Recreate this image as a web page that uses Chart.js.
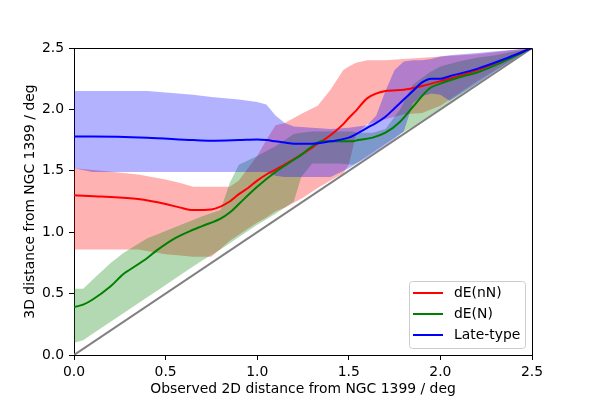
<!DOCTYPE html>
<html>
<head>
<meta charset="utf-8">
<script src="https://cdn.jsdelivr.net/npm/chart.js@4.4.1/dist/chart.umd.min.js"></script>
<style>
  html, body { margin: 0; padding: 0; background: #fff; }
</style>
</head>
<body>
<canvas id="grafico" width="591" height="399"></canvas>
<script>
const seriesNames = ['dE(nN)', 'dE(N)', 'Late-type'];
const xTickValues = [0, 0.5, 1.0, 1.5, 2.0, 2.5];
const yTickValues = [0, 0.5, 1.0, 1.5, 2.0, 2.5];

// dE(nN)
const redX    = [0, 0.15, 0.35, 0.5, 0.58, 0.65, 0.75, 0.85, 0.9, 0.95, 1.0, 1.05, 1.1, 1.15, 1.25, 1.33, 1.4, 1.47, 1.5, 1.54, 1.6, 1.7, 1.8, 1.9, 2.0, 2.2, 2.5];
const redLine = [1.30, 1.29, 1.27, 1.23, 1.20, 1.18, 1.185, 1.25, 1.31, 1.36, 1.42, 1.47, 1.51, 1.55, 1.64, 1.72, 1.79, 1.88, 1.93, 1.99, 2.09, 2.15, 2.16, 2.19, 2.23, 2.32, 2.5];
const redLow  = [0.86, 0.86, 0.86, 0.82, 0.81, 0.80, 0.80, 0.93, 0.98, 1.03, 1.08, 1.12, 1.17, 1.20, 1.28, 1.36, 1.42, 1.48, 1.55, 1.80, 1.88, 1.92, 1.96, 1.97, 2.03, 2.23, 2.5];
const redHigh = [1.52, 1.50, 1.47, 1.43, 1.40, 1.37, 1.37, 1.37, 1.42, 1.52, 1.62, 1.75, 1.87, 1.89, 1.97, 2.03, 2.16, 2.32, 2.35, 2.38, 2.40, 2.40, 2.41, 2.42, 2.43, 2.45, 2.5];

// dE(N)
const greenX    = [0, 0.05, 0.1, 0.2, 0.27, 0.3, 0.4, 0.45, 0.55, 0.65, 0.7, 0.8, 0.85, 0.9, 1.0, 1.1, 1.2, 1.24, 1.3, 1.35, 1.45, 1.52, 1.55, 1.63, 1.7, 1.78, 1.85, 1.94, 2.0, 2.1, 2.2, 2.3, 2.5];
const greenLine = [0.39, 0.41, 0.45, 0.56, 0.66, 0.69, 0.79, 0.85, 0.95, 1.02, 1.05, 1.11, 1.16, 1.23, 1.37, 1.49, 1.59, 1.63, 1.70, 1.74, 1.74, 1.74, 1.75, 1.77, 1.81, 1.90, 2.02, 2.17, 2.21, 2.26, 2.30, 2.36, 2.5];
const greenLow  = [0.10, 0.12, 0.17, 0.27, 0.34, 0.37, 0.47, 0.52, 0.62, 0.72, 0.77, 0.86, 0.91, 0.96, 1.06, 1.15, 1.25, 1.45, 1.56, 1.56, 1.56, 1.55, 1.57, 1.65, 1.72, 1.80, 1.86, 1.95, 2.01, 2.11, 2.21, 2.31, 2.5];
const greenHigh = [0.54, 0.54, 0.61, 0.75, 0.83, 0.86, 0.95, 0.98, 1.04, 1.10, 1.13, 1.18, 1.40, 1.55, 1.62, 1.70, 1.80, 1.81, 1.82, 1.82, 1.82, 1.82, 1.81, 1.81, 1.84, 2.00, 2.20, 2.30, 2.35, 2.39, 2.42, 2.44, 2.5];

// Late-type
const blueX    = [0, 0.1, 0.4, 0.65, 0.75, 0.9, 1.0, 1.05, 1.1, 1.15, 1.2, 1.3, 1.4, 1.5, 1.6, 1.65, 1.7, 1.75, 1.8, 1.85, 1.9, 1.95, 2.0, 2.05, 2.2, 2.35, 2.5];
const blueLine = [1.78, 1.78, 1.77, 1.75, 1.745, 1.75, 1.755, 1.75, 1.74, 1.73, 1.72, 1.72, 1.74, 1.77, 1.85, 1.89, 1.94, 2.01, 2.08, 2.15, 2.22, 2.25, 2.25, 2.27, 2.33, 2.41, 2.5];
const blueLow  = [1.52, 1.49, 1.49, 1.49, 1.49, 1.49, 1.49, 1.49, 1.46, 1.45, 1.45, 1.45, 1.45, 1.52, 1.61, 1.66, 1.71, 1.76, 1.82, 2.05, 2.11, 2.13, 2.12, 2.07, 2.21, 2.36, 2.5];
const blueHigh = [2.15, 2.15, 2.15, 2.12, 2.10, 2.08, 2.06, 2.04, 1.95, 1.89, 1.86, 1.85, 1.84, 1.85, 1.87, 1.95, 2.15, 2.32, 2.39, 2.40, 2.40, 2.41, 2.43, 2.44, 2.46, 2.48, 2.5];

// linea 1:1
const diagX = [0, 2.5];
const diagY = [0, 2.5];

const fuente = { family: 'DejaVu Sans', size: 13.9 };

function puntos(xs, ys) {
    return xs.map((x, i) => ({ x: x, y: ys[i] }));
}

function linea(label, xs, ys, color) {
    return {
        label: label,
        data: puntos(xs, ys),
        borderColor: color,
        borderWidth: 2,
        pointRadius: 0,
        cubicInterpolationMode: 'monotone',
        fill: false
    };
}

function borde(xs, ys, fillTarget, color) {
    return {
        data: puntos(xs, ys),
        borderWidth: 0,
        borderColor: 'rgba(0,0,0,0)',
        pointRadius: 0,
        tension: 0,
        fill: fillTarget === null ? false : { target: fillTarget },
        backgroundColor: color
    };
}

// primero en la lista = dibujado encima
const datasets = [
    linea(seriesNames[2], blueX, blueLine, '#0000ff'),
    linea(seriesNames[1], greenX, greenLine, '#008000'),
    linea(seriesNames[0], redX, redLine, '#ff0000'),
    { data: puntos(diagX, diagY), borderColor: '#808080', borderWidth: 2, pointRadius: 0, fill: false },
    borde(blueX, blueLow, null, 'rgba(0,0,0,0)'),
    borde(blueX, blueHigh, 4, 'rgba(0,0,255,0.3)'),
    borde(greenX, greenLow, null, 'rgba(0,0,0,0)'),
    borde(greenX, greenHigh, 6, 'rgba(0,128,0,0.3)'),
    borde(redX, redLow, null, 'rgba(0,0,0,0)'),
    borde(redX, redHigh, 8, 'rgba(255,0,0,0.3)')
];

const leyenda = [
    { label: seriesNames[0], color: '#ff0000' },
    { label: seriesNames[1], color: '#008000' },
    { label: seriesNames[2], color: '#0000ff' }
];

const marcoPlugin = {
    id: 'marco',
    afterDraw(chart) {
        const ctx = chart.ctx;
        const ca = chart.chartArea;
        ctx.save();
        ctx.strokeStyle = '#000';
        ctx.lineWidth = 1;
        ctx.beginPath();
        ctx.moveTo(ca.left, ca.top + 0.5);
        ctx.lineTo(ca.right + 0.5, ca.top + 0.5);
        ctx.lineTo(ca.right + 0.5, ca.bottom);
        ctx.stroke();

        // leyenda abajo a la derecha
        const w = 116, h = 67;
        const x0 = ca.right - 7 - w;
        const y0 = ca.bottom - 7 - h;
        ctx.fillStyle = 'rgba(255,255,255,0.8)';
        ctx.strokeStyle = '#cccccc';
        ctx.beginPath();
        ctx.roundRect(x0 + 0.5, y0 + 0.5, w, h, 3);
        ctx.fill();
        ctx.stroke();
        ctx.font = '13.9px "DejaVu Sans"';
        ctx.textBaseline = 'middle';
        ctx.textAlign = 'left';
        leyenda.forEach((item, i) => {
            const yy = y0 + 12 + i * 21;
            ctx.strokeStyle = item.color;
            ctx.lineWidth = 2;
            ctx.beginPath();
            ctx.moveTo(x0 + 4, yy);
            ctx.lineTo(x0 + 34, yy);
            ctx.stroke();
            ctx.fillStyle = '#000';
            ctx.fillText(item.label, x0 + 45, yy);
        });
        ctx.restore();
    }
};

new Chart(document.getElementById('grafico'), {
    type: 'line',
    data: { datasets: datasets },
    plugins: [marcoPlugin],
    options: {
        responsive: false,
        animation: false,
        devicePixelRatio: 1,
        layout: { padding: { left: 0, right: 59, top: 48, bottom: 0 } },
        plugins: {
            legend: { display: false },
            tooltip: { enabled: false },
            filler: { propagate: false }
        },
        scales: {
            x: {
                type: 'linear',
                min: 0,
                max: 2.5,
                afterBuildTicks: s => { s.ticks = xTickValues.map(v => ({ value: v })); },
                afterFit: s => { s.height = 44; },
                ticks: { color: '#000', font: fuente, padding: 4, maxRotation: 0, callback: v => v.toFixed(1) },
                grid: { drawOnChartArea: false, drawTicks: true, tickLength: 5, color: '#000' },
                border: { display: true, color: '#000', width: 1 },
                title: { display: true, text: 'Observed 2D distance from NGC 1399 / deg', color: '#000', font: fuente, padding: { top: 0, bottom: 1 } }
            },
            y: {
                type: 'linear',
                min: 0,
                max: 2.5,
                afterBuildTicks: s => { s.ticks = yTickValues.map(v => ({ value: v })); },
                afterFit: s => { s.width = 74; },
                ticks: { color: '#000', font: fuente, padding: 5, callback: v => v.toFixed(1) },
                grid: { drawOnChartArea: false, drawTicks: true, tickLength: 5, color: '#000' },
                border: { display: true, color: '#000', width: 1 },
                title: { display: true, text: '3D distance from NGC 1399 / deg', color: '#000', font: fuente, padding: { top: 22, bottom: 0 } }
            }
        }
    }
});
</script>
</body>
</html>
